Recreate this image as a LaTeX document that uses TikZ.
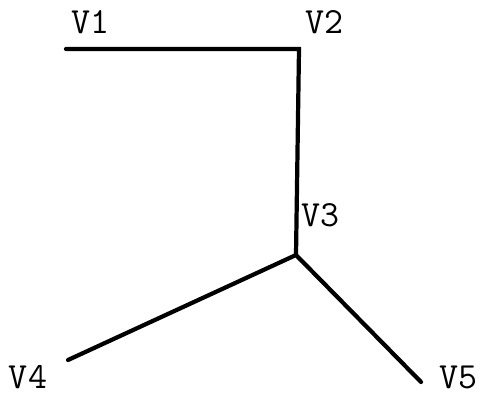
\documentclass[tikz,border=0pt]{standalone}
\usepackage{tikz}
\tikzset{
  edge/.style={line width=2.4pt, line cap=round, line join=miter},
  vlabel/.style={font=\ttfamily\fontsize{21}{21}\selectfont, inner sep=0pt, anchor=center}
}

\begin{document}
\begin{tikzpicture}[x=0.02cm, y=-0.02cm]
  \useasboundingbox (0,0) rectangle (479,398);
  \coordinate (v1) at (66,49);
  \coordinate (v2) at (299,49);
  \coordinate (v3) at (296,255);
  \coordinate (v4) at (68,360);
  \coordinate (v5) at (421,382);
  \node[vlabel] (l1) at (90,22) {V1};
  \node[vlabel] (l2) at (324,22) {V2};
  \node[vlabel] (l3) at (320,215) {V3};
  \node[vlabel] (l4) at (28,377) {V4};
  \node[vlabel] (l5) at (458,377) {V5};
  \draw[edge] (v1) -- (v2) -- (v3);
  \draw[edge] (v3) -- (v4);
  \draw[edge] (v3) -- (v5);
\end{tikzpicture}
\end{document}
